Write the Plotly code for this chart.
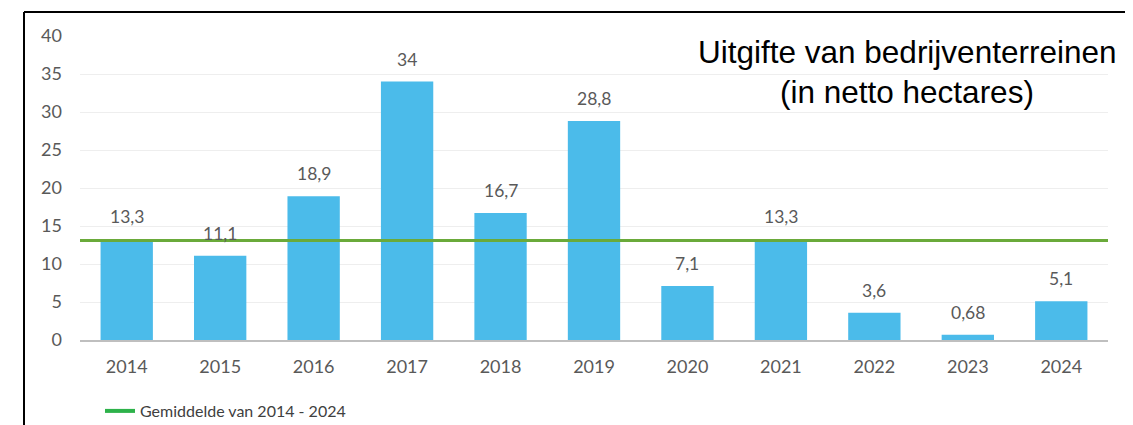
import plotly.graph_objects as go

years = ["2014", "2015", "2016", "2017", "2018", "2019", "2020", "2021", "2022", "2023", "2024"]
values = [13.3, 11.1, 18.9, 34, 16.7, 28.8, 7.1, 13.3, 3.6, 0.68, 5.1]
labels = ["13,3", "11,1", "18,9", "34", "16,7", "28,8", "7,1", "13,3", "3,6", "0,68", "5,1"]
average = 13.1
avg_name = "Gemiddelde van 2014 - 2024"
title_lines = ["Uitgifte van bedrijventerreinen", "(in netto hectares)"]

# page body has an 8px margin; work in window pixels and subtract it
OFF = 8
W, H = 1133 - OFF, 425 - OFF
L, R, T, B = 80 - OFF, 25, 36 - OFF, 85
pw, ph = W - L - R, H - T - B

def px_x(x):
    return (x - OFF - L) / pw

def px_y(y):
    return (H - B - (y - OFF)) / ph

FONT = "Lato, Open Sans, sans-serif"
lab_font = dict(family=FONT, size=17.5, color="#595959")

fig = go.Figure()
fig.add_trace(go.Bar(x=years, y=values, marker=dict(color="#4BBBEA", line=dict(width=0)),
                     showlegend=False, hoverinfo="x+y"))
fig.add_trace(go.Scatter(x=[years[0]], y=[None], mode="lines", name=avg_name,
                         line=dict(color="#2DB24A", width=4)))

fig.add_shape(type="line", xref="paper", yref="y", x0=0, x1=1, y0=average, y1=average,
              line=dict(color="#6AAA3A", width=3), layer="above")

for i, (v, t) in enumerate(zip(values, labels)):
    fig.add_annotation(x=i, y=v, text=t, showarrow=False, yanchor="bottom", yshift=10,
                       font=lab_font)

for i, line in enumerate(title_lines):
    fig.add_annotation(xref="paper", yref="paper", x=px_x(907), y=px_y(52 + 40 * i),
                       text=line, showarrow=False, xanchor="center", yanchor="middle",
                       font=dict(family="Liberation Sans, Arial, sans-serif", size=31.5, color="#000000"))

# outer frame lines (top and left)
fig.add_shape(type="line", xref="paper", yref="paper", x0=px_x(24), x1=px_x(1140),
              y0=px_y(12), y1=px_y(12), line=dict(color="#000000", width=2))
fig.add_shape(type="line", xref="paper", yref="paper", x0=px_x(24), x1=px_x(24),
              y0=px_y(12), y1=px_y(430), line=dict(color="#000000", width=2))

fig.update_layout(
    width=W, height=H,
    margin=dict(l=L, r=R, t=T, b=B, autoexpand=False),
    plot_bgcolor="white", paper_bgcolor="white",
    bargap=0.44,
    showlegend=True,
    legend=dict(orientation="h", x=px_x(100), y=px_y(411), xanchor="left", yanchor="middle",
                font=dict(family=FONT, size=16, color="#404040"),
                bgcolor="rgba(0,0,0,0)"),
    xaxis=dict(type="category", range=[-0.5, len(years) - 0.5], showgrid=False, showline=True,
               linecolor="#BFBFBF", linewidth=2,
               ticks="", tickfont=dict(family=FONT, size=18, color="#595959"),
               ticklabelstandoff=9),
    yaxis=dict(range=[0, 40], dtick=5, showgrid=True, gridcolor="#EEEEEE", gridwidth=1,
               zeroline=False, showline=False, ticks="",
               tickfont=dict(family=FONT, size=18, color="#595959"),
               ticklabelstandoff=17),
)

fig.write_html("out.html")
